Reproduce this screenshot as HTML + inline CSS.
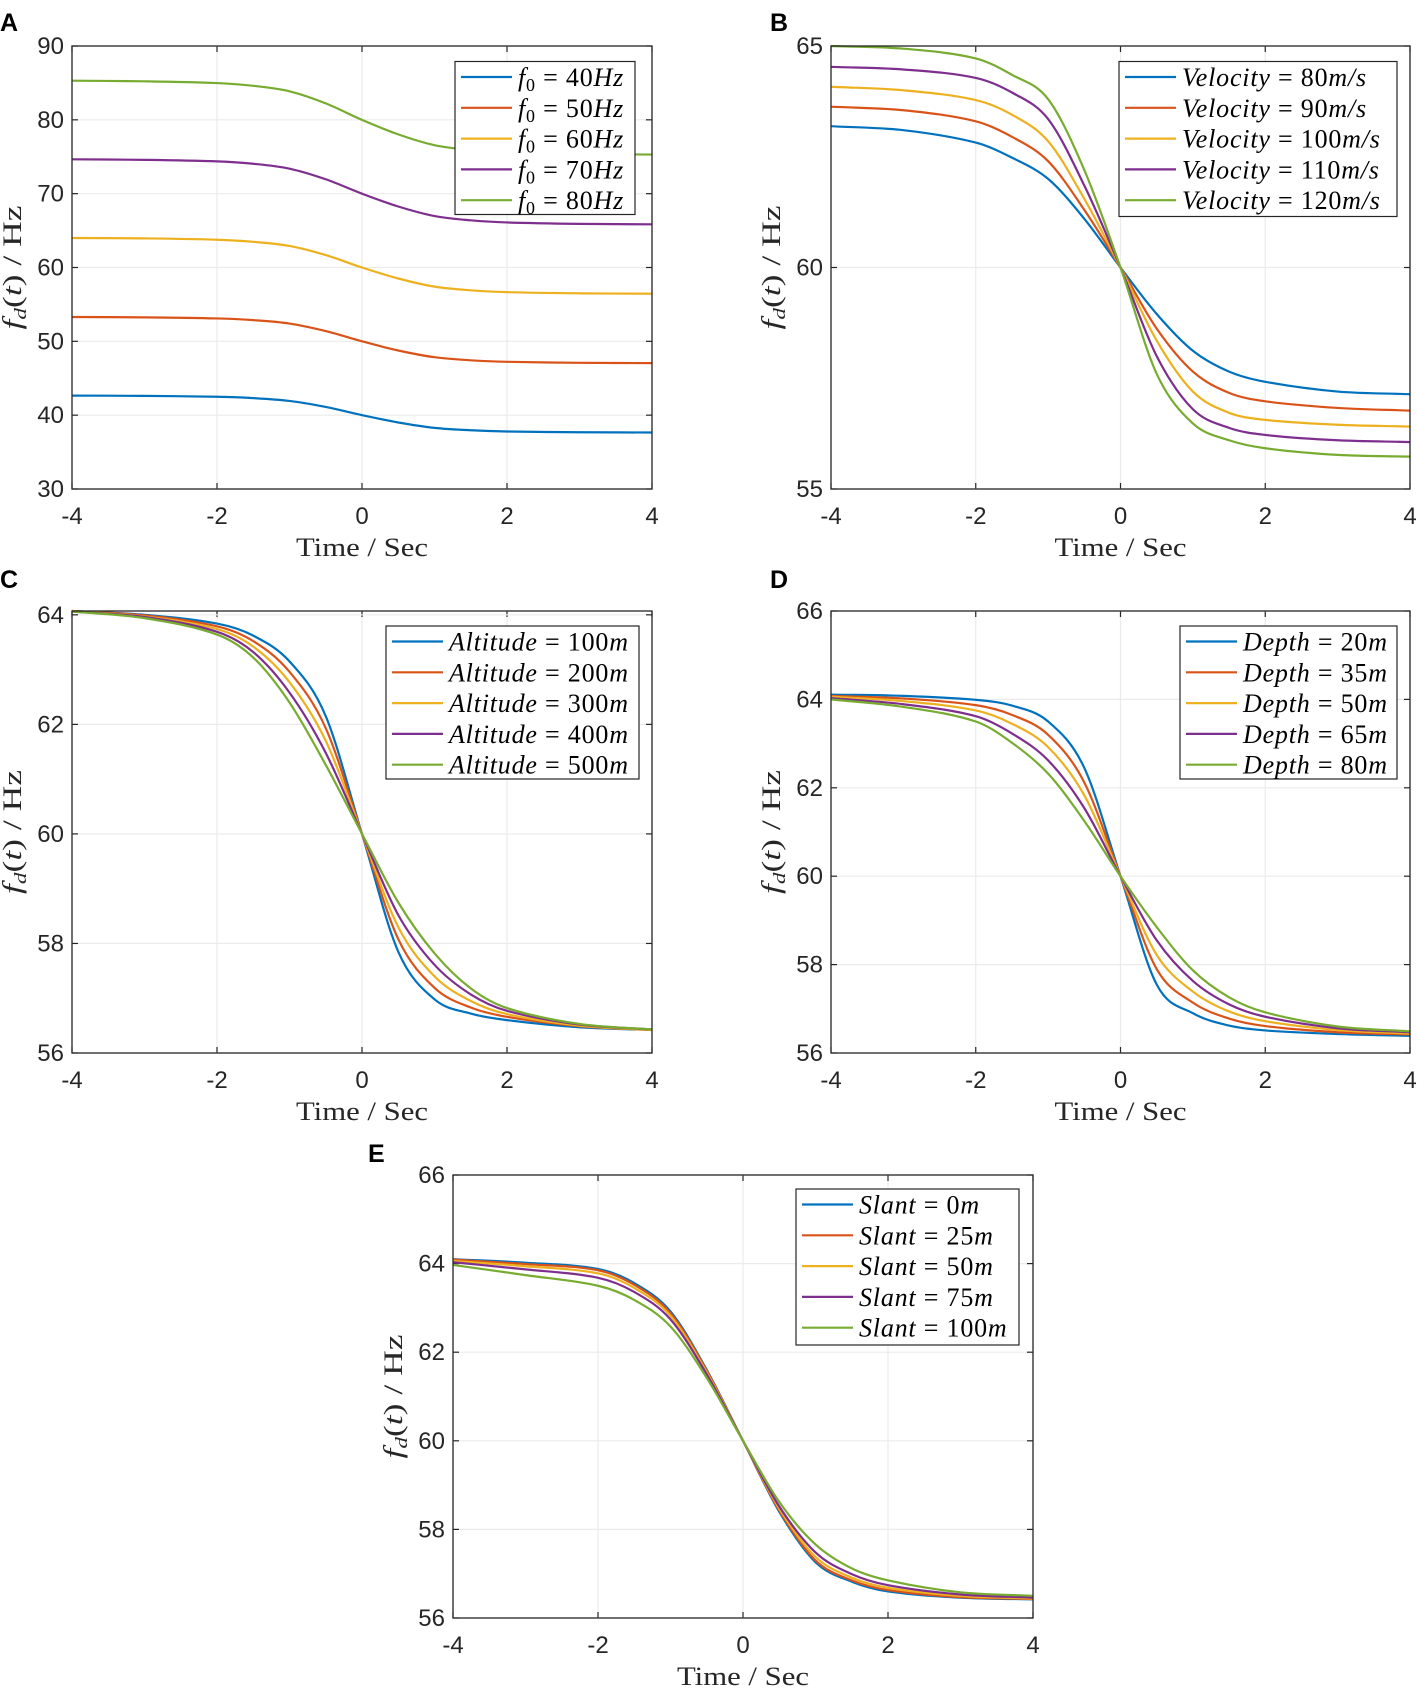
<!DOCTYPE html>
<html><head><meta charset="utf-8"><style>
html,body{margin:0;padding:0;background:#fff;}
svg{display:block;}
.tick{font-family:"Liberation Sans",sans-serif;font-size:24px;fill:#262626;}
.lbl{font-family:"Liberation Serif",serif;font-size:26px;fill:#262626;}
.leg{font-family:"Liberation Serif",serif;font-size:26px;fill:#000;letter-spacing:0.8px;}
.letter{font-family:"Liberation Sans",sans-serif;font-size:25px;font-weight:bold;fill:#000;}
</style></head><body>
<svg id="fig" width="1417" height="1692" viewBox="0 0 1417 1692" xmlns="http://www.w3.org/2000/svg"></svg>
<script>
const T = [-4,-3,-2,-1.5,-1,-0.5,0,0.5,1,1.5,2,3,4];
const xTicks = [-4,-2,0,2,4];
const ticksA = [30,40,50,60,70,80,90];
const ticksB = [55,60,65];
const ticksC = [56,58,60,62,64];
const ticksD = [56,58,60,62,64,66];
const ticksE = [56,58,60,62,64,66];

const aF40 = [42.65,42.61,42.49,42.31,41.93,41.11,40,39.01,38.28,37.96,37.79,37.69,37.65];
const aF50 = [53.3,53.25,53.1,52.87,52.41,51.39,50,48.76,47.85,47.43,47.23,47.09,47.05];
const aF60 = [64.0,63.94,63.76,63.48,62.92,61.68,60,58.51,57.41,56.91,56.66,56.5,56.45];
const aF70 = [74.65,74.58,74.37,74.05,73.39,71.95,70,68.26,66.97,66.39,66.1,65.91,65.85];
const aF80 = [85.3,85.22,84.98,84.61,83.87,82.23,80,78.03,76.57,75.91,75.58,75.37,75.3];

const bV80 = [63.19,63.1,62.82,62.48,62.0,61.1,60,58.95,58.12,57.65,57.42,57.2,57.14];
const bV90 = [63.63,63.55,63.3,62.95,62.4,61.3,60,58.62,57.65,57.17,56.98,56.83,56.77];
const bV100 = [64.08,64.0,63.78,63.45,62.85,61.55,60,58.35,57.2,56.72,56.56,56.45,56.41];
const bV110 = [64.53,64.47,64.28,63.95,63.35,61.85,60,58.0,56.8,56.38,56.22,56.1,56.06];
const bV120 = [65.0,64.94,64.72,64.35,63.8,62.2,60,57.6,56.48,56.1,55.92,55.77,55.73];

const cA100 = [64.07,64.0,63.84,63.62,63.15,62.15,60,57.85,56.98,56.72,56.6,56.47,56.42];
const cA200 = [64.07,63.99,63.79,63.52,62.96,61.93,60,58.08,57.19,56.83,56.66,56.49,56.42];
const cA300 = [64.07,63.97,63.74,63.42,62.77,61.7,60,58.3,57.4,56.95,56.71,56.5,56.42];
const cA400 = [64.06,63.96,63.69,63.32,62.58,61.48,60,58.52,57.61,57.07,56.77,56.52,56.43];
const cA500 = [64.06,63.94,63.64,63.22,62.4,61.26,60,58.75,57.82,57.18,56.82,56.53,56.43];

const dD20 = [64.11,64.08,63.99,63.86,63.5,62.45,60,57.55,56.9,56.62,56.51,56.43,56.39];
const dD35 = [64.08,64.02,63.87,63.65,63.2,62.12,60,57.9,57.14,56.78,56.61,56.47,56.42];
const dD50 = [64.06,63.96,63.75,63.45,62.92,61.83,60,58.22,57.39,56.94,56.72,56.52,56.44];
const dD65 = [64.03,63.89,63.62,63.23,62.62,61.54,60,58.55,57.63,57.1,56.82,56.56,56.47];
const dD80 = [64.0,63.83,63.5,63.02,62.32,61.25,60,58.85,57.87,57.26,56.92,56.6,56.49];

const eS0 = [64.1,64.02,63.88,63.56,62.92,61.6,60,58.4,57.26,56.82,56.6,56.46,56.42];
const eS25 = [64.09,63.99,63.85,63.52,62.88,61.58,60,58.43,57.3,56.85,56.63,56.47,56.43];
const eS50 = [64.06,63.94,63.78,63.45,62.82,61.54,60,58.47,57.38,56.91,56.68,56.5,56.44];
const eS75 = [64.03,63.87,63.68,63.36,62.74,61.5,60,58.52,57.48,56.99,56.74,56.53,56.46];
const eS100 = [63.97,63.74,63.5,63.18,62.58,61.42,60,58.62,57.66,57.12,56.85,56.58,56.5];

const valsA = ['40','50','60','70','80'];
const valsB = ['80','90','100','110','120'];
const valsC = ['100','200','300','400','500'];
const valsD = ['20','35','50','65','80'];
const valsE = ['0','25','50','75','100'];

const COLORS = ['#0072BD','#D95319','#EDB120','#7E2F8E','#77AC30'];
const NS = 'http://www.w3.org/2000/svg';
const svg = document.getElementById('fig');

function mk(tag, attrs, parent){
  const el = document.createElementNS(NS, tag);
  for (const k in attrs) el.setAttribute(k, attrs[k]);
  (parent||svg).appendChild(el);
  return el;
}

function smoothPath(px, py){
  const n = px.length, m=[];
  m[0]=(py[1]-py[0])/(px[1]-px[0]);
  m[n-1]=(py[n-1]-py[n-2])/(px[n-1]-px[n-2]);
  for(let i=1;i<n-1;i++) m[i]=(py[i+1]-py[i-1])/(px[i+1]-px[i-1]);
  let s='M'+px[0].toFixed(2)+','+py[0].toFixed(2);
  for(let i=0;i<n-1;i++){
    const h=(px[i+1]-px[i])/3;
    s+=' C'+(px[i]+h).toFixed(2)+','+(py[i]+m[i]*h).toFixed(2)+' '+(px[i+1]-h).toFixed(2)+','+(py[i+1]-m[i+1]*h).toFixed(2)+' '+px[i+1].toFixed(2)+','+py[i+1].toFixed(2);
  }
  return s;
}

const panels = [
 {key:'a',letter:'A',lx:0,ly:31,L:72,R:652,Tp:46,B:489,ymin:30,ymax:90,yt:ticksA,series:[aF40,aF50,aF60,aF70,aF80],vals:valsA,kind:'f',leg:[455,61.5,180,153]},
 {key:'b',letter:'B',lx:770,ly:31,L:831,R:1410,Tp:46,B:489,ymin:55,ymax:65,yt:ticksB,series:[bV80,bV90,bV100,bV110,bV120],vals:valsB,kind:'Velocity',unit:'m/s',leg:[1119,61.5,278,155]},
 {key:'c',letter:'C',lx:0,ly:588,L:72,R:652,Tp:611,B:1053,ymin:56,ymax:64.07,yt:ticksC,series:[cA100,cA200,cA300,cA400,cA500],vals:valsC,kind:'Altitude',unit:'m',leg:[386,626,253,153]},
 {key:'d',letter:'D',lx:770,ly:588,L:831,R:1410,Tp:611,B:1053,ymin:56,ymax:66,yt:ticksD,series:[dD20,dD35,dD50,dD65,dD80],vals:valsD,kind:'Depth',unit:'m',leg:[1180,626,217,153]},
 {key:'e',letter:'E',lx:368,ly:1162,L:453,R:1033,Tp:1175,B:1618,ymin:56,ymax:66,yt:ticksE,series:[eS0,eS25,eS50,eS75,eS100],vals:valsE,kind:'Slant',unit:'m',leg:[796,1189,223,156]}
];

panels.forEach(p=>{
  const g = mk('g',{});
  
  
  const xs = t => p.L + (t+4)/8*(p.R-p.L);
  const ys = v => p.B - (v-p.ymin)/(p.ymax-p.ymin)*(p.B-p.Tp);

  const letter = mk('text',{x:p.lx,y:p.ly,class:'letter'},g);
  letter.textContent = p.letter;
  
  

  const bg = mk('rect',{x:p.L,y:p.Tp,width:p.R-p.L,height:p.B-p.Tp,fill:'#fff'},g);
  
  

  xTicks.forEach(t=>{
    const x = xs(t);
    const gl = mk('line',{x1:x,x2:x,y1:p.Tp,y2:p.B,stroke:'#ebebeb','stroke-width':1.2},g);
    
    
    mk('line',{x1:x,x2:x,y1:p.B,y2:p.B-6,stroke:'#262626','stroke-width':1.2},g);
    mk('line',{x1:x,x2:x,y1:p.Tp,y2:p.Tp+6,stroke:'#262626','stroke-width':1.2},g);
    const tl = mk('text',{x:x,y:p.B+35,'text-anchor':'middle',class:'tick'},g);
    tl.textContent = String(t);
    
    
  });
  p.yt.forEach(v=>{
    const y = ys(v);
    const gl = mk('line',{x1:p.L,x2:p.R,y1:y,y2:y,stroke:'#ebebeb','stroke-width':1.2},g);
    
    
    mk('line',{x1:p.L,x2:p.L+6,y1:y,y2:y,stroke:'#262626','stroke-width':1.2},g);
    mk('line',{x1:p.R,x2:p.R-6,y1:y,y2:y,stroke:'#262626','stroke-width':1.2},g);
    const tl = mk('text',{x:p.L-8,y:y+8,'text-anchor':'end',class:'tick'},g);
    tl.textContent = String(v);
    
    
  });

  p.series.forEach((s,i)=>{
    const path = mk('path',{d:smoothPath(T.map(xs), s.map(ys)),fill:'none',stroke:COLORS[i],'stroke-width':2.2,'stroke-linejoin':'round'},g);
    
    
  });

  const box = mk('rect',{x:p.L,y:p.Tp,width:p.R-p.L,height:p.B-p.Tp,fill:'none',stroke:'#262626','stroke-width':1.3},g);
  
  

  const xl = mk('text',{x:(p.L+p.R)/2,y:p.B+67,'text-anchor':'middle',class:'lbl',textLength:132,lengthAdjust:'spacingAndGlyphs'},g);
  xl.textContent = 'Time / Sec';
  
  

  const cy = (p.Tp+p.B)/2, cx = p.L-51;
  const yl = mk('text',{x:cx,y:cy,'text-anchor':'middle',class:'lbl',transform:'rotate(-90 '+cx+' '+cy+')',textLength:124,lengthAdjust:'spacingAndGlyphs'},g);
  yl.innerHTML = '<tspan font-style="italic">f</tspan><tspan font-style="italic" font-size="17" dy="5">d</tspan><tspan dy="-5">(</tspan><tspan font-style="italic">t</tspan><tspan>) / Hz</tspan>';
  
  

  const [bx,by,bw,bh] = p.leg;
  const lg = mk('g',{},g);
  
  
  const lr = mk('rect',{x:bx,y:by,width:bw,height:bh,fill:'#fff',stroke:'#262626','stroke-width':1.2},lg);
  
  
  p.vals.forEach((v,i)=>{
    const cyr = by+15.5+i*30.8;
    const ln = mk('line',{x1:bx+6,x2:bx+57,y1:cyr,y2:cyr,stroke:COLORS[i],'stroke-width':2.2},lg);
    
    
    const tx = mk('text',{x:bx+63,y:cyr+9,'text-anchor':'start',class:'leg'},lg);
    if(p.kind==='f'){
      tx.innerHTML = '<tspan font-style="italic">f</tspan><tspan font-size="18" dy="5">0</tspan><tspan dy="-5"> = '+v+'</tspan><tspan font-style="italic">Hz</tspan>';
    } else {
      tx.innerHTML = '<tspan font-style="italic">'+p.kind+'</tspan><tspan> = '+v+'</tspan><tspan font-style="italic">'+p.unit+'</tspan>';
    }
    
    
  });
});
</script>
</body></html>
